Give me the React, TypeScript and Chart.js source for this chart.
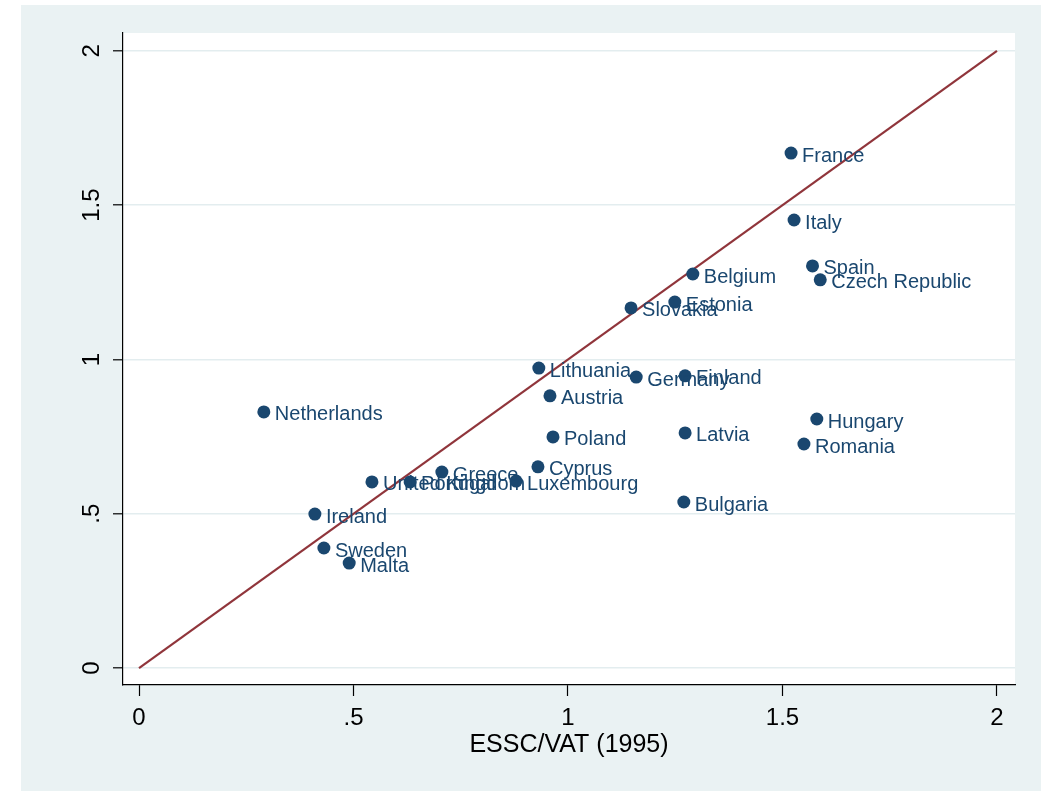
import React, { useEffect, useRef } from "react";
import { Chart, registerables } from "chart.js";

Chart.register(...registerables);

const countries = [
  "France", "Italy", "Spain", "Czech Republic", "Belgium", "Estonia", "Slovakia",
  "Lithuania", "Germany", "Finland", "Austria", "Netherlands", "Hungary", "Romania",
  "Latvia", "Poland", "Cyprus", "Greece", "United Kingdom", "Portugal", "Luxembourg",
  "Bulgaria", "Ireland", "Sweden", "Malta",
];
const esscVat1995 = [
  1.52, 1.527, 1.57, 1.588, 1.291, 1.249, 1.147,
  0.932, 1.159, 1.273, 0.958, 0.291, 1.58, 1.55,
  1.273, 0.965, 0.93, 0.706, 0.543, 0.632, 0.879,
  1.27, 0.41, 0.431, 0.49,
];
const yValues = [
  1.669, 1.452, 1.303, 1.258, 1.277, 1.186, 1.167,
  0.972, 0.943, 0.947, 0.882, 0.83, 0.807, 0.726,
  0.762, 0.749, 0.652, 0.635, 0.603, 0.603, 0.606,
  0.538, 0.499, 0.389, 0.34,
];
const lineX = [0, 2];
const lineY = [0, 2];
const xTicks = [0, 0.5, 1, 1.5, 2];
const yTicks = [0, 0.5, 1, 1.5, 2];
const tickLabel = (v: number) => (v === 0.5 ? ".5" : String(v));

const FONT = "'Liberation Sans', Arial, sans-serif";
const NAVY = "#1a476f";
const MAROON = "#90353b";
const BG = "#eaf2f3";
const GRID = "#e3edef";

export default function App() {
  const ref = useRef<HTMLCanvasElement | null>(null);

  useEffect(() => {
    if (!ref.current) return;

    const bgPlugin = {
      id: "bg",
      beforeDraw(chart: any) {
        const { ctx, chartArea } = chart;
        ctx.save();
        ctx.fillStyle = "#ffffff";
        ctx.fillRect(0, 0, chart.width, chart.height);
        ctx.fillStyle = BG;
        ctx.fillRect(21, 5, 1020, 786);
        ctx.fillStyle = "#ffffff";
        ctx.fillRect(chartArea.left, chartArea.top, chartArea.right - chartArea.left, chartArea.bottom - chartArea.top);
        ctx.restore();
      },
    };

    const labelsPlugin = {
      id: "pointLabels",
      afterDatasetsDraw(chart: any) {
        const { ctx } = chart;
        const meta = chart.getDatasetMeta(1);
        ctx.save();
        ctx.font = `20px ${FONT}`;
        ctx.fillStyle = NAVY;
        ctx.textAlign = "left";
        ctx.textBaseline = "middle";
        meta.data.forEach((el: any, i: number) => {
          ctx.fillText(countries[i], el.x + 11, el.y + 3);
        });
        ctx.restore();
      },
    };

    const yLabelsPlugin = {
      id: "yLabels",
      afterDraw(chart: any) {
        const { ctx } = chart;
        const ys = chart.scales.y;
        ctx.save();
        ctx.font = `24px ${FONT}`;
        ctx.fillStyle = "#000000";
        ctx.textAlign = "center";
        ctx.textBaseline = "middle";
        yTicks.forEach((v) => {
          const py = ys.getPixelForValue(v);
          ctx.save();
          ctx.translate(92.5, py);
          ctx.rotate(-Math.PI / 2);
          ctx.fillText(tickLabel(v), 0, 0);
          ctx.restore();
        });
        ctx.restore();
      },
    };

    const chart = new Chart(ref.current, {
      type: "scatter",
      data: {
        datasets: [
          {
            type: "line",
            data: lineX.map((x, i) => ({ x, y: lineY[i] })),
            borderColor: MAROON,
            borderWidth: 2.2,
            pointRadius: 0,
            order: 1,
          } as any,
          {
            type: "scatter",
            data: esscVat1995.map((x, i) => ({ x, y: yValues[i] })),
            backgroundColor: NAVY,
            borderWidth: 0,
            pointRadius: 6.5,
            order: 0,
          },
        ],
      },
      options: {
        animation: false,
        responsive: false,
        devicePixelRatio: 1,
        layout: { padding: { left: 0, top: 33, right: 31, bottom: 0 } },
        plugins: { legend: { display: false }, tooltip: { enabled: false } },
        scales: {
          x: {
            type: "linear",
            min: -0.0373,
            max: 2.042,
            afterBuildTicks: (axis: any) => {
              axis.ticks = xTicks.map((v) => ({ value: v }));
            },
            afterFit: (scale: any) => {
              scale.height = 106;
            },
            grid: { drawOnChartArea: false, tickLength: 11, tickColor: "#000000", tickWidth: 1.2 },
            border: { display: true, color: "#000000", width: 1.2 },
            ticks: {
              color: "#000000",
              font: { family: FONT, size: 24 },
              padding: 8,
              maxRotation: 0,
              callback: (v: any) => tickLabel(Number(v)),
            },
            title: {
              display: true,
              text: "ESSC/VAT (1995)",
              color: "#000000",
              font: { family: FONT, size: 25 },
              padding: { top: 0, bottom: 31 },
            },
          },
          y: {
            type: "linear",
            min: -0.055,
            max: 2.058,
            afterBuildTicks: (axis: any) => {
              axis.ticks = yTicks.map((v) => ({ value: v }));
            },
            afterFit: (scale: any) => {
              scale.width = 123;
            },
            grid: { color: GRID, lineWidth: 1.6, tickLength: 10, tickColor: "#000000", tickWidth: 1.2 },
            border: { display: true, color: "#000000", width: 1.2 },
            ticks: { display: false },
          },
        },
      },
      plugins: [bgPlugin, labelsPlugin, yLabelsPlugin],
    });

    return () => chart.destroy();
  }, []);

  return (
    <div style={{ position: "absolute", left: 0, top: 0, width: 1046, height: 791 }}>
      <canvas ref={ref} width={1046} height={791} style={{ width: 1046, height: 791, display: "block" }} />
    </div>
  );
}
